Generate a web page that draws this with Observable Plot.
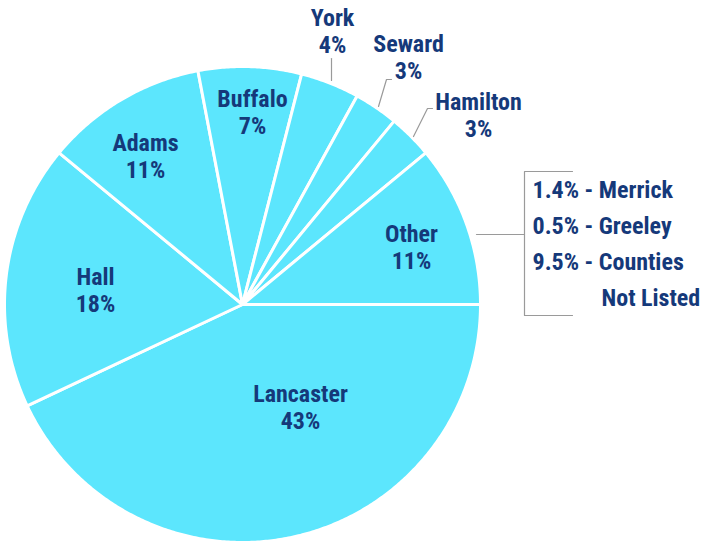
<!DOCTYPE html>
<html>
<head>
<meta charset="utf-8">
<script src="https://cdn.jsdelivr.net/npm/d3@7"></script>
<script src="https://cdn.jsdelivr.net/npm/@observablehq/plot@0.6"></script>
<style>
  html, body { margin: 0; padding: 0; background: #fff; }
  #chart { width: 706px; height: 542px; overflow: hidden; }
</style>
</head>
<body>
<div id="chart"></div>
<script>
// ---- data ----
const counties = ["Lancaster", "Hall", "Adams", "Buffalo", "York", "Seward", "Hamilton", "Other"];
const shares = [43, 18, 11, 7, 4, 3, 3, 11];
const otherBreakdownLabels = ["1.4% - Merrick", "0.5% - Greeley", "9.5% - Counties", "Not Listed"];

// ---- layout (pixels) ----
const W = 706, H = 542;
const cx = 242, cy = 304, R = 238;
const toX = px => (px - cx) / R;
const toY = py => (cy - py) / R;

const labelPx = {
  Lancaster: [300, 406], Hall: [95, 289], Adams: [145, 155], Buffalo: [252, 111],
  York: [332, 30], Seward: [408, 56], Hamilton: [478, 114], Other: [411, 246]
};
const leaderPx = [
  [[331, 80], [331, 58]],
  [[378, 106], [386, 79], [391, 79]],
  [[413, 136], [427, 108], [432, 108]],
  [[476, 234], [524, 234]],
  [[572, 171], [524, 171], [524, 315], [572, 315]]
];
const legendPx = [[532, 190], [532, 226], [532, 262], [601, 298]];

// ---- geometry from data ----
const total = d3.sum(shares);
let acc = 0;
const slices = counties.map((name, i) => {
  const a0 = acc / total * 360;
  acc += shares[i];
  const a1 = acc / total * 360;
  return {name, value: shares[i], a0, a1};
});
const slicePts = [];
for (const s of slices) {
  slicePts.push({name: s.name, x: 0, y: 0});
  const n = Math.max(2, Math.ceil((s.a1 - s.a0) * 2));
  for (let k = 0; k <= n; k++) {
    const a = (s.a0 + (s.a1 - s.a0) * k / n) * Math.PI / 180;
    slicePts.push({name: s.name, x: Math.cos(a), y: -Math.sin(a)});
  }
  slicePts.push({name: s.name, x: 0, y: 0});
}
const labels = slices.map(s => ({
  text: `${s.name}\n${Math.round(s.value)}%`,
  x: toX(labelPx[s.name][0]), y: toY(labelPx[s.name][1])
}));
const leaders = leaderPx.flatMap((path, i) => path.map(([px, py]) => ({id: i, x: toX(px), y: toY(py)})));
const legend = otherBreakdownLabels.map((t, i) => ({text: t, x: toX(legendPx[i][0]), y: toY(legendPx[i][1])}));

const font = '"Liberation Sans Narrow", "Arial Narrow", "Roboto Condensed", "DejaVu Sans Condensed", sans-serif';
const navy = "#15397a";

const plot = Plot.plot({
  width: W, height: H,
  margin: 0,
  style: {fontFamily: font, background: "#fff", overflow: "hidden"},
  x: {domain: [-1, 1], range: [cx - R, cx + R], axis: null},
  y: {domain: [-1, 1], range: [cy + R, cy - R], axis: null},
  marks: [
    Plot.line(slicePts, {x: "x", y: "y", z: "name", fill: "#5ce6fd", stroke: "#fff", strokeWidth: 3, strokeLinejoin: "round", curve: "linear"}),
    Plot.line(leaders, {x: "x", y: "y", z: "id", stroke: "#9a9a9a", strokeWidth: 1.2, curve: "linear"}),
    Plot.text(labels, {x: "x", y: "y", text: "text", fill: navy, fontSize: 24, fontWeight: "bold", lineHeight: 1.13, textAnchor: "middle"}),
    Plot.text(legend, {x: "x", y: "y", text: "text", fill: navy, fontSize: 24, fontWeight: "bold", textAnchor: "start"})
  ]
});
document.getElementById("chart").appendChild(plot);
</script>
</body>
</html>
